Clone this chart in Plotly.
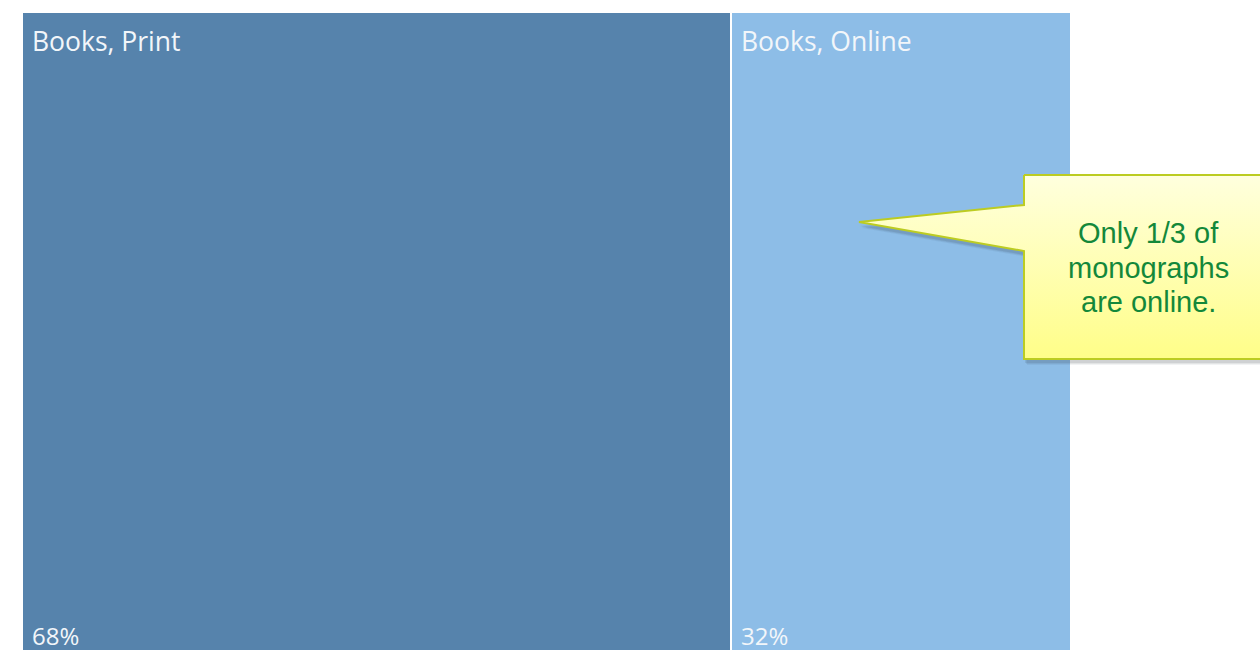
import plotly.graph_objects as go

W, H = 1260, 651

categories = ["Books, Print", "Books, Online"]
shares = [67.6, 32.4]
colors = ["#5683ac", "#8dbde7"]
callout_lines = ["Only 1/3 of", "monographs", "are online."]

total = sum(shares)
fig = go.Figure()

starts = []
acc = 0
for cat, v, c in zip(categories, shares, colors):
    starts.append(acc)
    acc += v
    fig.add_trace(go.Bar(
        y=["Monographs"], x=[v], orientation="h", name=cat,
        marker=dict(color=c, line=dict(color="white", width=2)),
        hoverinfo="name+x", showlegend=False,
        xaxis="x", yaxis="y",
    ))

# Callout overlay axes in pixel-like coordinates (y from bottom)
def yy(top_px):
    return H - top_px

box_l, box_t, box_r, box_b = 1024, 175, 1290, 359
tip = (859, 222)
j1, j2 = 205, 251
px = [box_l, box_l, tip[0], box_l, box_l, box_r, box_r, box_l]
py = [box_t, j1, tip[1], j2, box_b, box_b, box_t, box_t]

# soft shadow
for off, alpha in [(6, 0.06), (5, 0.08), (4, 0.10)]:
    fig.add_trace(go.Scatter(
        x=[p + off - 3 for p in px], y=[yy(p + off) for p in py], mode="lines",
        fill="toself", fillcolor=f"rgba(40,50,60,{alpha})", line=dict(width=0),
        hoverinfo="skip", showlegend=False, xaxis="x2", yaxis="y2",
    ))
fig.add_trace(go.Scatter(
    x=px, y=[yy(p) for p in py], mode="lines", fill="toself",
    fillgradient=dict(type="vertical",
                      colorscale=[[0, "#fffe88"], [1, "#ffffde"]]),
    line=dict(color="#bccc22", width=2),
    hoverinfo="skip", showlegend=False, xaxis="x2", yaxis="y2",
))

annotations = []
for cat, v, s in zip(categories, shares, starts):
    annotations.append(dict(
        x=s, y=0.5, xref="x", yref="y", text=cat, showarrow=False,
        xanchor="left", yanchor="top", xshift=8, yshift=-9,
        font=dict(family="Open Sans", size=26.5, color="#f2f6fa"),
    ))
    annotations.append(dict(
        x=s, y=-0.5, xref="x", yref="y", text=f"{v / total * 100:.0f}%",
        showarrow=False, xanchor="left", yanchor="bottom", xshift=8, yshift=-3,
        font=dict(family="Open Sans", size=24, color="#f2f6fa"),
    ))

for line, ty in zip(callout_lines, [233, 268, 302]):
    annotations.append(dict(
        x=1148, y=yy(ty), xref="x2", yref="y2", text=line,
        showarrow=False, xanchor="center", yanchor="middle", align="center",
        font=dict(family="Liberation Sans, Arial", size=29, color="#13883a"),
    ))

fig.update_layout(
    width=W, height=H,
    margin=dict(l=0, r=0, t=0, b=0),
    paper_bgcolor="white", plot_bgcolor="rgba(0,0,0,0)",
    barmode="stack", bargap=0,
    xaxis=dict(domain=[22 / W, 1071 / W], range=[0, total], visible=False, fixedrange=True),
    yaxis=dict(domain=[0, (H - 12) / H], range=[-0.5, 0.5], visible=False, fixedrange=True),
    xaxis2=dict(domain=[0, 1], range=[0, W], visible=False, anchor="y2", fixedrange=True),
    yaxis2=dict(domain=[0, 1], range=[0, H], visible=False, anchor="x2", fixedrange=True),
    annotations=annotations,
)

fig.write_html(
    "out.html",
    config={"displayModeBar": False},
    post_script="document.body.style.margin='0';document.body.style.overflow='hidden';",
)
